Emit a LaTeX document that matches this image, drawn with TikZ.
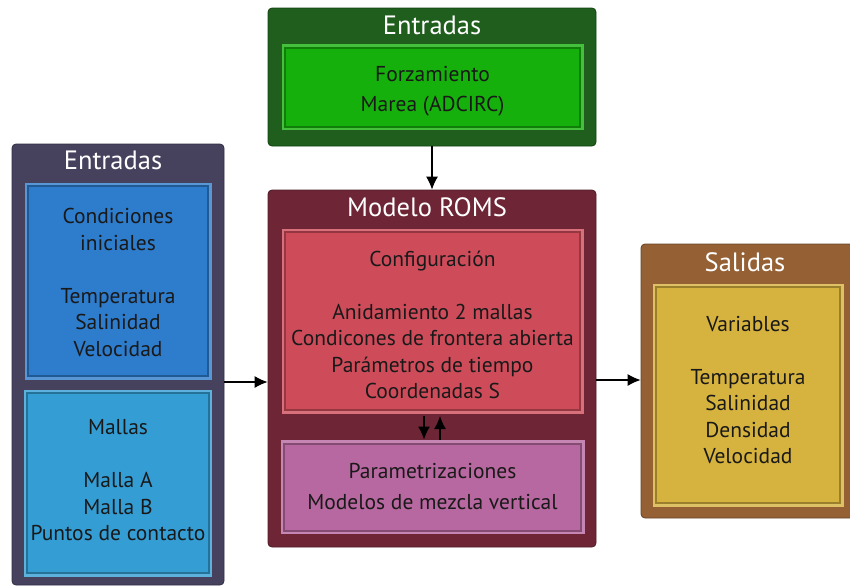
\documentclass[tikz,border=0pt]{standalone}
\usepackage{fontspec}
\setmainfont{PT Sans}
\usetikzlibrary{arrows.meta}

\definecolor{verdeOsc}{RGB}{31,94,28}
\definecolor{verdeCla}{RGB}{22,176,12}
\definecolor{pizarra}{RGB}{70,66,94}
\definecolor{azul}{RGB}{46,124,204}
\definecolor{celeste}{RGB}{52,158,212}
\definecolor{vino}{RGB}{110,38,54}
\definecolor{rojo}{RGB}{206,76,90}
\definecolor{malva}{RGB}{184,104,160}
\definecolor{cafe}{RGB}{148,96,52}
\definecolor{oro}{RGB}{214,178,62}

\tikzset{
  panel/.style={draw=#1!70!black, fill=#1, line width=0.8pt, rounded corners=4pt},
  caja/.style={fill=#1, draw=#1!72!black, line width=2pt,
    preaction={draw=#1!80!white, line width=7pt},
    align=center, text=black!90, font=\fontsize{21.5}{26.5}\selectfont},
  titulo/.style={text=white, font=\fontsize{26.5}{30}\selectfont},
  flecha/.style={-{Latex[length=13pt,width=12pt]}, line width=1.2pt}
}

\begin{document}
\begin{tikzpicture}[x=1pt,y=-1pt]
  \useasboundingbox (0,0) rectangle (850,587);

  % paneles
  \node[panel=verdeOsc, minimum width=328pt, minimum height=138pt] (entG) at (432,77) {};
  \node[panel=pizarra, minimum width=212pt, minimum height=441pt] (entL) at (118,364.5) {};
  \node[panel=vino, minimum width=328pt, minimum height=357pt] (roms) at (432,368.5) {};
  \node[panel=cafe, minimum width=216pt, minimum height=274pt] (sal) at (749,381) {};

  % titulos
  \node[titulo] (tG) at (432,25) {Entradas};
  \node[titulo] (tL) at (113,160) {Entradas};
  \node[titulo] (tR) at (427,207) {Modelo ROMS};
  \node[titulo] (tS) at (745,262) {Salidas};

  % cajas internas
  \node[caja=verdeCla, minimum width=295pt, minimum height=79pt,
        font=\fontsize{21.5}{30}\selectfont] (forz) at (432.5,87)
    {\rule{0pt}{23pt}Forzamiento\\Marea (ADCIRC)};
  \node[caja=azul, minimum width=180pt, minimum height=190pt] (cond) at (118,281)
    {\rule{0pt}{18pt}Condiciones\\iniciales\\[26.5pt]Temperatura\\Salinidad\\Velocidad};
  \node[caja=celeste, minimum width=180pt, minimum height=180pt] (mall) at (118,483)
    {Mallas\\[26.5pt]Malla A\\Malla B\\Puntos de contacto\rule[-6pt]{0pt}{0pt}};
  \node[caja=rojo, minimum width=295pt, minimum height=178pt] (cfg) at (432.5,321)
    {\rule{0pt}{23pt}Configuración\\[26.5pt]Anidamiento 2 mallas\\Condicones de frontera abierta\\Parámetros de tiempo\\Coordenadas S};
  \node[caja=malva, minimum width=297pt, minimum height=87pt,
        font=\fontsize{21.5}{31}\selectfont] (par) at (432.5,487)
    {Parametrizaciones\\Modelos de mezcla vertical};
  \node[caja=oro, minimum width=184pt, minimum height=216pt] (var) at (748,395)
    {Variables\\[26.5pt]Temperatura\\Salinidad\\Densidad\\Velocidad\rule[-10pt]{0pt}{0pt}};

  % conexiones
  \draw[flecha] (entG.south) -- (roms.north);
  \draw[flecha] (entL.east |- 0,382) -- (roms.west |- 0,382);
  \draw[flecha] (roms.east |- 0,380) -- (sal.west |- 0,380);
  \draw[flecha, shorten <=5pt, shorten >=3pt] (cfg.south -| 424,0) -- (par.north -| 424,0);
  \draw[flecha, shorten <=3pt, shorten >=5pt] (par.north -| 440,0) -- (cfg.south -| 440,0);
\end{tikzpicture}
\end{document}
